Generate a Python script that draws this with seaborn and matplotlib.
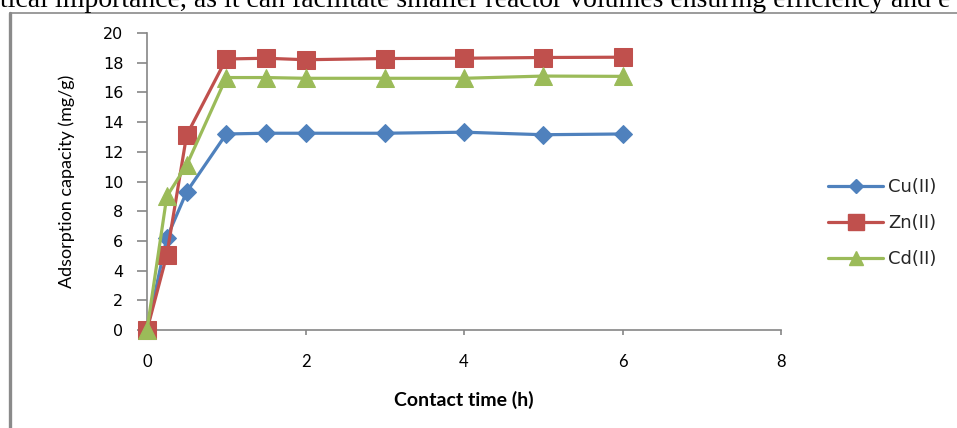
import matplotlib
matplotlib.use("Agg")
import matplotlib.pyplot as plt
from matplotlib.lines import Line2D
import pandas as pd
import seaborn as sns

# Contact time (h) and adsorption capacity (mg/g) per metal ion
time_h = [0, 0.25, 0.5, 1, 1.5, 2, 3, 4, 5, 6]
cu = [0, 6.2, 9.3, 13.2, 13.25, 13.25, 13.25, 13.32, 13.15, 13.2]
zn = [0, 5.05, 13.12, 18.25, 18.3, 18.2, 18.28, 18.3, 18.35, 18.37]
cd = [0, 9.0, 11.1, 17.0, 17.0, 16.95, 16.95, 16.95, 17.1, 17.08]

series_names = ["Cu(II)", "Zn(II)", "Cd(II)"]
series_values = [cu, zn, cd]
colors = ["#4F81BD", "#C0504D", "#9BBB59"]
markers = ["D", "s", "^"]
marker_sizes = [9, 13, 13]

x_ticks = [0, 2, 4, 6, 8]
y_ticks = [0, 2, 4, 6, 8, 10, 12, 14, 16, 18, 20]

df = pd.concat(
    [pd.DataFrame({"time": time_h, "q": vals, "ion": name})
     for name, vals in zip(series_names, series_values)],
    ignore_index=True,
)

sns.set_theme(style="white")
plt.rcParams["font.family"] = ["DejaVu Sans"]

fig = plt.figure(figsize=(9.57, 4.28), dpi=100)
ax = fig.add_axes([147 / 957, 98 / 428, 634 / 957, 297 / 428])

for name, col, mk, ms in zip(series_names, colors, markers, marker_sizes):
    sub = df[df["ion"] == name]
    sns.lineplot(data=sub, x="time", y="q", ax=ax, color=col, marker=mk,
                 markersize=ms, markeredgecolor=col, linewidth=2.3,
                 clip_on=False, legend=False, zorder=3)

ax.set_xlim(0, 8)
ax.set_ylim(0, 20)
ax.set_xticks(x_ticks)
ax.set_yticks(y_ticks)
ax.set_xticklabels([str(v) for v in x_ticks], fontfamily="Lato", fontsize=12)
ax.set_yticklabels([str(v) for v in y_ticks], fontsize=11.5)

for side in ["top", "right"]:
    ax.spines[side].set_visible(False)
for side in ["left", "bottom"]:
    ax.spines[side].set_color("#868686")
    ax.spines[side].set_linewidth(1.2)

ax.tick_params(axis="y", which="both", left=True, direction="out", length=7,
               width=1.2, color="#868686", pad=10, labelcolor="black")
ax.tick_params(axis="x", which="both", bottom=True, direction="out", length=3.5,
               width=1.2, color="#868686", pad=14, labelcolor="black")

ax.set_xlabel("Contact time (h)", fontfamily="Lato", fontweight="bold",
              fontsize=14, labelpad=15, color="black")
ax.set_ylabel("Adsorption capacity (mg/g)", fontfamily="Lato", fontsize=13,
              labelpad=20, color="black")

handles = [Line2D([], [], color=c, marker=m, markersize=s,
                  markeredgecolor=c, linewidth=2.3)
           for c, m, s in zip(colors, markers, [7, 12, 10])]
fig.legend(handles, series_names, loc="center left",
           bbox_to_anchor=(821 / 957, 1 - 223 / 428), frameon=False,
           fontsize=13, handlelength=3.05, handletextpad=0.28,
           labelspacing=1.0, borderaxespad=0)

# Surrounding page: line of body text and the figure frame
fig.text(0.0, 1 - 7 / 428, "tical importance, as it can facilitate smaller reactor "
         "volumes ensuring efficiency and e", fontfamily="Liberation Serif",
         fontsize=20, va="baseline", ha="left", color="black")
fig.add_artist(Line2D([10 / 957, 10 / 957], [0, 1 - 12.5 / 428],
                      transform=fig.transFigure, color="#8a8a8a", linewidth=2.4))
fig.add_artist(Line2D([10 / 957, 1], [1 - 12.5 / 428, 1 - 12.5 / 428],
                      transform=fig.transFigure, color="#8a8a8a", linewidth=1.2))

fig.savefig("out.png", dpi=100)
